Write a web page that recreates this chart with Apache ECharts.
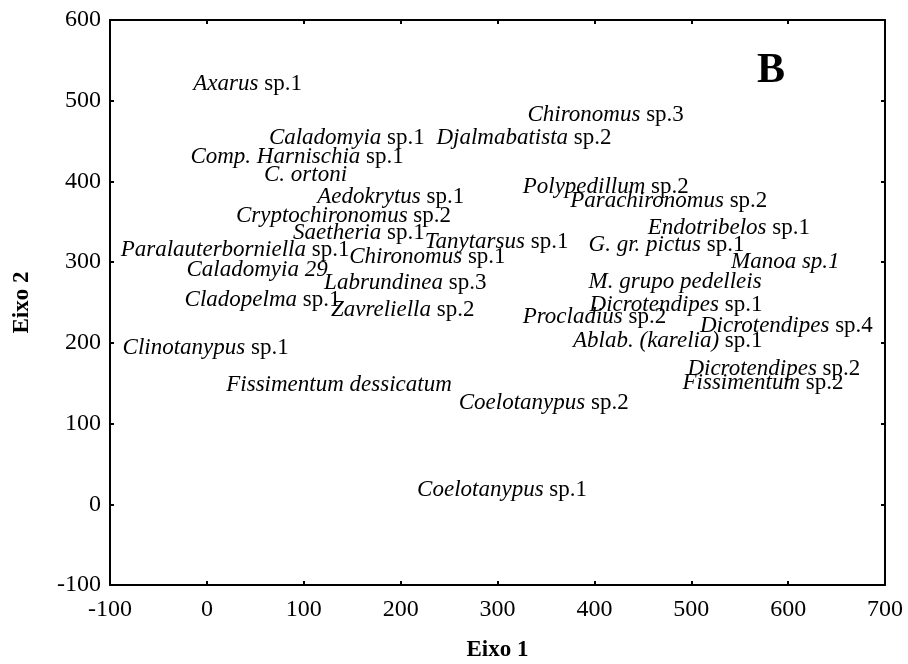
<!DOCTYPE html>
<html>
<head>
<meta charset="utf-8">
<title>Eixo 1 x Eixo 2 - B</title>
<script src="https://cdn.jsdelivr.net/npm/echarts@6/dist/echarts.min.js"></script>
<style>
  html, body { margin: 0; padding: 0; background: #fff; }
  #main { width: 908px; height: 664px; }
</style>
</head>
<body>
<div id="main"></div>
<script>
// taxon labels: italic part + plain suffix
const taxa = [
  "Axarus", "Caladomyia", "Djalmabatista", "Chironomus", "Comp. Harnischia",
  "C. ortoni", "Aedokrytus", "Polypedillum", "Parachironomus", "Cryptochironomus",
  "Saetheria", "Endotribelos", "Tanytarsus", "G. gr. pictus", "Paralauterborniella",
  "Chironomus", "Manoa sp.1", "Caladomyia 29", "Labrundinea", "M. grupo pedelleis",
  "Cladopelma", "Dicrotendipes", "Zavreliella", "Procladius", "Dicrotendipes",
  "Ablab. (karelia)", "Clinotanypus", "Dicrotendipes", "Fissimentum", "Fissimentum dessicatum",
  "Coelotanypus", "Coelotanypus"
];
const suffix = [
  " sp.1", " sp.1", " sp.2", " sp.3", " sp.1",
  "", " sp.1", " sp.2", " sp.2", " sp.2",
  " sp.1", " sp.1", " sp.1", " sp.1", " sp.1",
  " sp.1", "", "", " sp.3", "",
  " sp.1", " sp.1", " sp.2", " sp.2", " sp.4",
  " sp.1", " sp.1", " sp.2", " sp.2", "",
  " sp.2", " sp.1"
];
// scores on the two axes
const eixo1 = [
  -14, 64, 237, 331, -17,
  59, 114, 326, 375, 30,
  89, 455, 225, 394, -89,
  147, 541, -21, 121, 394,
  -23, 395, 128, 326, 509,
  378, -87, 496, 491, 20,
  260, 217
];
const eixo2 = [
  521, 454, 454, 482, 430,
  408, 381, 393, 376, 357,
  336, 342, 325, 321, 315,
  306, 300, 290, 274, 275,
  253, 247, 241, 232, 221,
  202, 194, 168, 150, 148,
  125, 18
];
const xTicks = [-100, 700, 100]; // min, max, step
const yTicks = [-100, 600, 100];

const serif = "'Liberation Serif', 'Times New Roman', serif";

const points = taxa.map((t, i) => ({
  value: [eixo1[i], eixo2[i]],
  name: t,
  suffix: suffix[i],
}));

const chart = echarts.init(document.getElementById("main"));

const axisCommon = {
  axisLine: { show: true, onZero: false, lineStyle: { color: "#000", width: 2 } },
  axisTick: { show: true, inside: true, length: 4, lineStyle: { color: "#000", width: 2 } },
  splitLine: { show: false },
};

const option = {
  backgroundColor: "#fff",
  animation: false,
  // keep the plot box fixed, labels may sit near the edges
  grid: { left: 110, right: 23, top: 20, bottom: 79, containLabel: false, outerBoundsMode: "none" },
  xAxis: [
    Object.assign({
      type: "value",
      min: xTicks[0], max: xTicks[1], interval: xTicks[2],
      name: "Eixo 1",
      nameLocation: "middle",
      nameGap: 54,
      nameTextStyle: { fontFamily: serif, fontWeight: "bold", fontSize: 23, color: "#000" },
      axisLabel: { fontFamily: serif, fontSize: 24, color: "#000", margin: 13 },
    }, axisCommon),
    Object.assign({
      type: "value", position: "top",
      min: xTicks[0], max: xTicks[1], interval: xTicks[2],
      axisLabel: { show: false },
    }, axisCommon),
  ],
  yAxis: [
    Object.assign({
      type: "value",
      min: yTicks[0], max: yTicks[1], interval: yTicks[2],
      name: "Eixo 2",
      nameLocation: "middle",
      nameGap: 76,
      nameRotate: 90,
      nameTextStyle: { fontFamily: serif, fontWeight: "bold", fontSize: 23, color: "#000" },
      axisLabel: { fontFamily: serif, fontSize: 24, color: "#000", margin: 9 },
    }, axisCommon),
    Object.assign({
      type: "value", position: "right",
      min: yTicks[0], max: yTicks[1], interval: yTicks[2],
      axisLabel: { show: false },
    }, axisCommon),
  ],
  graphic: [
    {
      type: "text",
      left: 757, top: 50,
      style: { text: "B", font: "bold 42px " + serif, fill: "#000" },
    },
  ],
  series: [
    {
      type: "scatter",
      symbolSize: 0,
      itemStyle: { opacity: 1 },
      data: points,
      label: {
        show: true,
        position: "right",
        distance: 0,
        opacity: 1,
        color: "#000",
        fontFamily: serif,
        fontSize: 23,
        formatter: (p) => "{i|" + p.data.name + "}" + (p.data.suffix ? "{n|" + p.data.suffix + "}" : ""),
        rich: {
          i: { fontFamily: serif, fontSize: 23, fontStyle: "italic", color: "#000" },
          n: { fontFamily: serif, fontSize: 23, color: "#000" },
        },
      },
      emphasis: { disabled: true },
    },
  ],
};

chart.setOption(option);
</script>
</body>
</html>
